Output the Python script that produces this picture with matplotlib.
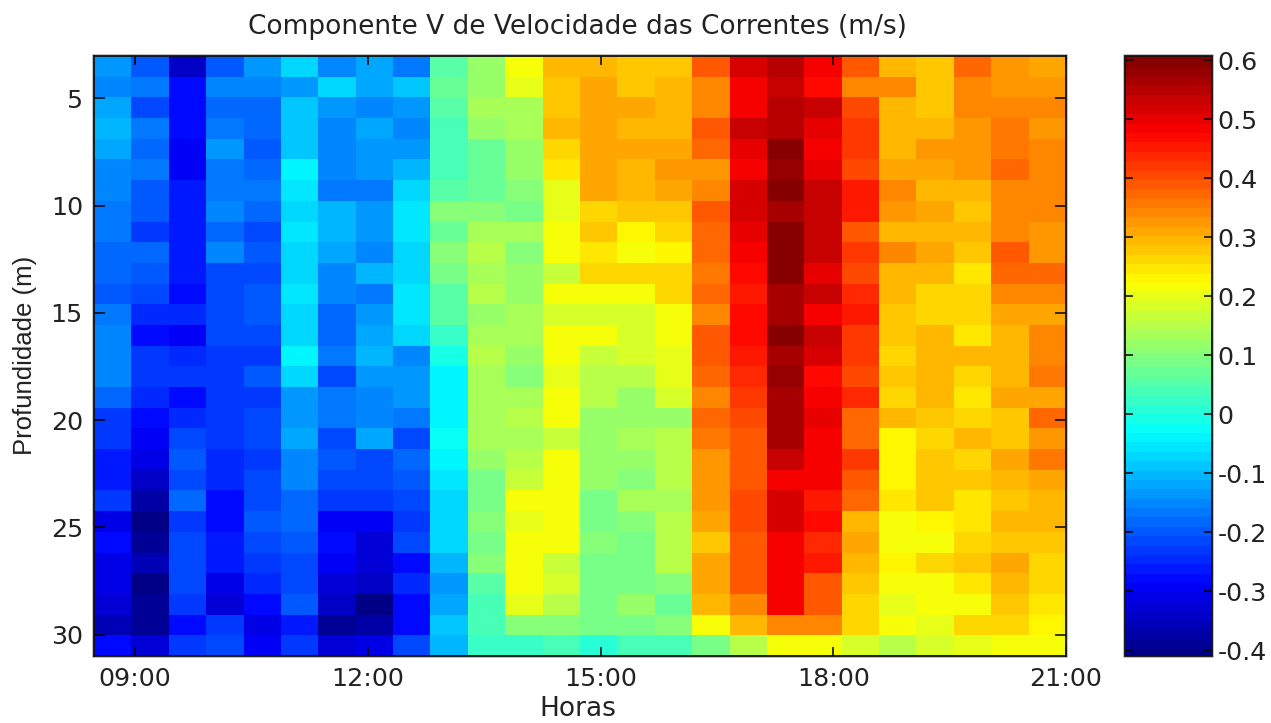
import numpy as np
import matplotlib
matplotlib.use("Agg")
import matplotlib.pyplot as plt
from matplotlib.colors import ListedColormap
from matplotlib.patches import Rectangle

title = "Componente V de Velocidade das Correntes (m/s)"
xlabel = "Horas"
ylabel = "Profundidade (m)"
hour_ticks = [9, 12, 15, 18, 21]
hour_labels = ["09:00", "12:00", "15:00", "18:00", "21:00"]
depth_ticks = [5, 10, 15, 20, 25, 30]
cbar_ticks = [-0.4, -0.3, -0.2, -0.1, 0, 0.1, 0.2, 0.3, 0.4, 0.5, 0.6]
cbar_labels = ["-0.4", "-0.3", "-0.2", "-0.1", "0", "0.1", "0.2", "0.3", "0.4", "0.5", "0.6"]

c01 = [-.13,-.15,-.12,-.10,-.12,-.15,-.15,-.165,-.165,-.18,-.18,-.20,-.16,-.15,-.15,-.155,-.18,-.22,-.22,-.26,-.26,-.235,-.31,-.28,-.30,-.31,-.32,-.36,-.28]
c02 = [-.195,-.165,-.205,-.165,-.18,-.165,-.195,-.195,-.22,-.18,-.195,-.21,-.25,-.28,-.235,-.235,-.25,-.28,-.295,-.30,-.34,-.37,-.40,-.38,-.36,-.405,-.38,-.38,-.33]
c03 = [-.34,-.28,-.27,-.28,-.285,-.285,-.26,-.255,-.255,-.255,-.255,-.28,-.25,-.285,-.25,-.22,-.28,-.25,-.215,-.195,-.21,-.18,-.22,-.21,-.205,-.21,-.235,-.28,-.22]
c04 = [-.195,-.15,-.18,-.165,-.135,-.165,-.165,-.155,-.18,-.15,-.205,-.215,-.205,-.215,-.225,-.22,-.235,-.235,-.22,-.25,-.25,-.28,-.28,-.26,-.26,-.305,-.32,-.235,-.205]
c05 = [-.135,-.155,-.18,-.18,-.195,-.18,-.17,-.18,-.21,-.19,-.205,-.19,-.195,-.21,-.22,-.195,-.22,-.215,-.215,-.225,-.205,-.21,-.195,-.205,-.225,-.24,-.28,-.30,-.295]
c06 = [-.07,-.135,-.08,-.08,-.09,-.03,-.055,-.07,-.055,-.07,-.07,-.055,-.075,-.075,-.035,-.075,-.125,-.125,-.12,-.15,-.15,-.18,-.18,-.19,-.215,-.21,-.195,-.265,-.22]
c07 = [-.145,-.075,-.13,-.15,-.155,-.155,-.165,-.105,-.105,-.115,-.15,-.15,-.18,-.18,-.165,-.21,-.17,-.17,-.215,-.19,-.21,-.235,-.29,-.28,-.29,-.33,-.34,-.38,-.32]
c08 = [-.115,-.115,-.15,-.115,-.125,-.125,-.165,-.135,-.135,-.145,-.105,-.165,-.135,-.115,-.105,-.135,-.15,-.15,-.115,-.21,-.21,-.235,-.29,-.33,-.33,-.34,-.395,-.365,-.305]
c09 = [-.165,-.09,-.125,-.145,-.125,-.105,-.07,-.055,-.055,-.07,-.07,-.05,-.05,-.07,-.15,-.135,-.135,-.165,-.21,-.18,-.19,-.21,-.22,-.21,-.28,-.25,-.28,-.28,-.215]
c10 = [.06,.075,.06,.04,.04,.04,.06,.105,.07,.105,.095,.06,.06,.03,-.01,-.03,-.03,-.03,-.025,-.03,-.06,-.075,-.075,-.075,-.105,-.135,-.115,-.09,-.105]
c11 = [.13,.13,.145,.13,.07,.08,.08,.11,.145,.16,.14,.155,.13,.145,.16,.14,.14,.145,.14,.12,.095,.095,.11,.085,.11,.06,.045,.045,.03]
c12 = [.225,.195,.145,.145,.12,.12,.105,.085,.145,.105,.12,.13,.14,.145,.13,.11,.135,.16,.14,.16,.17,.21,.195,.21,.21,.21,.20,.11,.03]
c13 = [.305,.275,.275,.295,.26,.25,.20,.20,.225,.21,.17,.225,.185,.225,.225,.205,.225,.21,.17,.225,.225,.225,.225,.225,.17,.19,.16,.11,.04]
c14 = [.295,.32,.31,.31,.31,.31,.31,.26,.275,.255,.26,.225,.185,.21,.17,.16,.16,.13,.13,.13,.13,.095,.085,.105,.085,.085,.085,.085,.015]
c15 = [.275,.275,.31,.295,.32,.295,.295,.28,.24,.225,.26,.225,.185,.185,.19,.16,.115,.13,.145,.13,.105,.145,.105,.085,.09,.09,.115,.085,.045]
c16 = [.28,.295,.30,.30,.32,.335,.31,.28,.26,.24,.26,.26,.225,.225,.205,.205,.185,.13,.16,.16,.15,.135,.16,.155,.155,.11,.08,.11,.045]
c17 = [.385,.35,.35,.385,.37,.325,.34,.385,.37,.37,.36,.37,.34,.385,.385,.37,.35,.37,.36,.325,.325,.325,.31,.275,.31,.31,.29,.225,.095]
c18 = [.515,.495,.495,.53,.51,.495,.515,.515,.50,.48,.465,.45,.465,.465,.45,.435,.42,.415,.385,.40,.40,.415,.41,.40,.40,.40,.35,.29,.16]
c19 = [.545,.53,.545,.545,.595,.585,.595,.56,.595,.595,.595,.56,.56,.595,.56,.58,.56,.56,.56,.53,.48,.515,.515,.495,.48,.48,.48,.35,.225]
c20 = [.48,.465,.53,.51,.48,.50,.53,.53,.53,.53,.51,.53,.495,.53,.525,.465,.48,.51,.48,.48,.48,.45,.465,.435,.45,.39,.39,.35,.21]
c21 = [.39,.35,.41,.425,.425,.41,.45,.45,.39,.425,.41,.435,.45,.425,.43,.41,.435,.38,.37,.42,.40,.38,.30,.32,.295,.285,.27,.26,.185]
c22 = [.305,.35,.305,.305,.305,.32,.34,.325,.305,.34,.305,.305,.285,.285,.27,.275,.27,.305,.24,.24,.24,.245,.225,.225,.24,.225,.205,.225,.16]
c23 = [.275,.275,.275,.305,.335,.32,.305,.32,.295,.31,.29,.27,.27,.29,.29,.29,.305,.285,.26,.275,.275,.275,.24,.225,.26,.225,.225,.205,.18]
c24 = [.38,.34,.34,.325,.325,.325,.29,.275,.29,.275,.25,.27,.27,.25,.29,.27,.25,.26,.295,.26,.275,.255,.255,.26,.28,.245,.225,.26,.205]
c25 = [.335,.335,.35,.36,.36,.38,.35,.35,.35,.385,.38,.35,.32,.29,.305,.305,.31,.285,.275,.32,.305,.285,.305,.285,.32,.305,.275,.26,.225]
c26 = [.31,.325,.34,.325,.34,.35,.34,.34,.325,.335,.37,.34,.32,.34,.34,.36,.31,.37,.325,.36,.31,.305,.305,.285,.27,.27,.25,.24,.225]

columns = [c01, c02, c03, c04, c05, c06, c07, c08, c09, c10, c11, c12, c13,
           c14, c15, c16, c17, c18, c19, c20, c21, c22, c23, c24, c25, c26]
grid = np.array(columns).T

def matlab_jet(n=64):
    t = (np.arange(n) + 0.5) / n
    r = np.interp(t, [0.375, 0.625, 0.875, 1.0], [0, 1, 1, 0.5])
    g = np.interp(t, [0.125, 0.375, 0.625, 0.875], [0, 1, 1, 0])
    b = np.interp(t, [0.0, 0.125, 0.375, 0.625], [0.5, 1, 1, 0])
    return ListedColormap(np.column_stack([r, g, b]))

W, H = 1271, 723
fig = plt.figure(figsize=(W / 100, H / 100), dpi=100, facecolor='white')

def box(l, t, r, b):
    return [l / W, 1 - b / H, (r - l) / W, (b - t) / H]

# soft grey rim around each frame
for l, t, r, b in [(94, 56, 1066, 656), (1125, 56, 1212, 656)]:
    x0, y0, w, h = box(l, t, r, b)
    fig.add_artist(Rectangle((x0, y0), w, h, transform=fig.transFigure, fill=False,
                             edgecolor='#b4b4b4', linewidth=2.6, zorder=-1))

ax = fig.add_axes(box(94, 56, 1066, 656))
cax = fig.add_axes(box(1125, 56, 1212, 656))

xmin, xmax = 8.47, 21.0
ymin, ymax = 3.03, 31.0
x_edges = np.linspace(xmin, xmax, grid.shape[1] + 1)
y_edges = np.linspace(ymin, ymax, grid.shape[0] + 1)
vmin, vmax = -0.41, 0.607
cmap = matlab_jet(64)

mesh = ax.pcolormesh(x_edges, y_edges, grid, cmap=cmap, vmin=vmin, vmax=vmax,
                     shading='flat', rasterized=True)
ax.set_xlim(xmin, xmax)
ax.set_ylim(ymax, ymin)

FONT = 'DejaVu Sans'
FS = 18.2
FS_TITLE = 19.0
TC = '#222222'
ax.set_xticks(hour_ticks)
ax.set_xticklabels(hour_labels, family=FONT)
ax.set_yticks(depth_ticks)
ax.set_yticklabels([str(d) for d in depth_ticks], family=FONT)
ax.tick_params(axis='both', which='major', direction='in', top=True, right=True,
               width=1.1, labelsize=FS, labelcolor=TC)
ax.tick_params(axis='x', pad=8, length=6.5)
ax.tick_params(axis='y', pad=8, length=8)
for s in ax.spines.values():
    s.set_linewidth(1.3)
    s.set_color('#111111')

fig.text(578 / W, 1 - 709 / H, xlabel, ha='center', va='center', fontsize=FS_TITLE, color=TC, family=FONT)
fig.text(25 / W, 1 - 355 / H, ylabel, ha='center', va='center', rotation=90, fontsize=18.5,
         color=TC, family='Liberation Sans')
fig.text(577 / W, 1 - 27 / H, title, ha='center', va='center', fontsize=FS_TITLE, color=TC, family=FONT)

cb = fig.colorbar(mesh, cax=cax)
cb.set_ticks(cbar_ticks)
cb.set_ticklabels(cbar_labels, family=FONT)
cb.ax.tick_params(direction='in', left=True, right=True, length=6, width=1.1,
                  labelsize=FS, labelcolor=TC, pad=4)
cb.outline.set_linewidth(1.3)
cb.outline.set_edgecolor('#111111')
cb.solids.set_edgecolor('face')

fig.savefig('out.png', dpi=100, facecolor='white')
